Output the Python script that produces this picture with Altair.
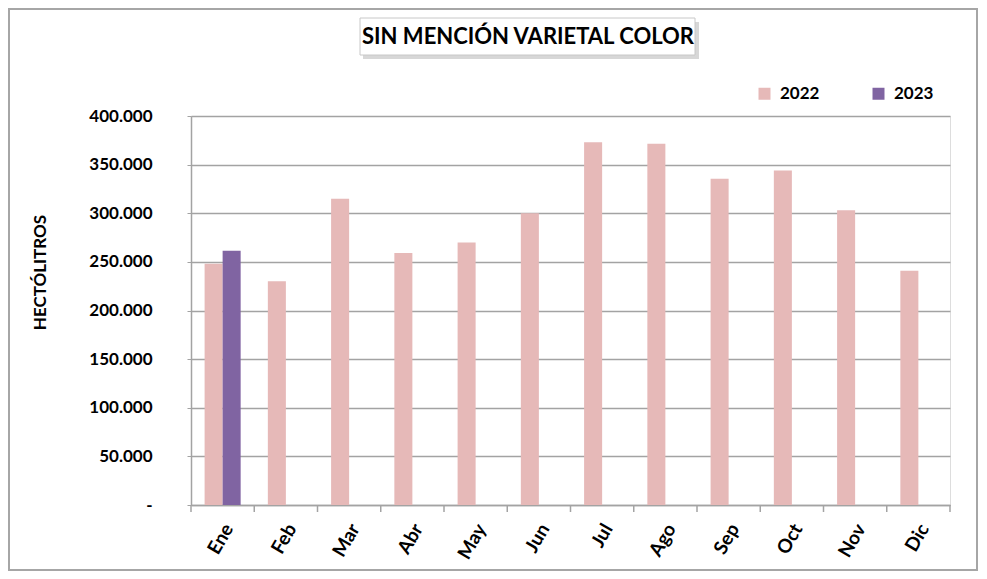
import altair as alt
import pandas as pd

months = ["Ene", "Feb", "Mar", "Abr", "May", "Jun", "Jul", "Ago", "Sep", "Oct", "Nov", "Dic"]
v2022 = [248000, 230000, 315000, 259000, 270000, 300000, 373000, 371500, 335500, 344000, 303000, 241000]
v2023 = [261500]
years = ["2022", "2023"]
colors = ["#E6B9B8", "#8064A2"]
y_ticks = [0, 50000, 100000, 150000, 200000, 250000, 300000, 350000, 400000]
title_text = ["SIN MENCIÓN VARIETAL COLOR"]
y_title = "HECTÓLITROS"

rows = [{"mes": m, "anio": "2022", "hl": v} for m, v in zip(months, v2022)]
rows += [{"mes": m, "anio": "2023", "hl": v} for m, v in zip(months, v2023)]
df = pd.DataFrame(rows)

W, H = 759, 389
FONT = "Lato"
GRID = "#a3a3a3"
PAD_OUT = 0.215

xscale = alt.Scale(domain=months, paddingInner=0.43, paddingOuter=PAD_OUT)
xaxis = alt.Axis(title=None, labelAngle=-60, ticks=False, domain=True,
                 domainColor=GRID, domainWidth=1.5, labelFont=FONT, labelFontSize=19,
                 labelFontWeight="bold", labelColor="black", labelPadding=20, labelOffset=6, grid=False)

bars = alt.Chart(df).mark_bar().encode(
    x=alt.X("mes:N", scale=xscale, sort=months, axis=xaxis),
    xOffset=alt.XOffset("anio:N", scale=alt.Scale(domain=years, paddingInner=0, paddingOuter=0)),
    y=alt.Y("hl:Q", scale=alt.Scale(domain=[0, 400000], nice=False),
            axis=alt.Axis(title=y_title, values=y_ticks,
                          labelExpr="datum.value == 0 ? '-\u00a0\u00a0' : replace(format(datum.value, ','), ',', '.')",
                          grid=True, gridColor=GRID, gridWidth=1.5, tickColor=GRID, tickSize=4,
                          domainColor=GRID, domainWidth=1.5, labelFont=FONT, labelFontSize=17,
                          labelFontWeight="bold", labelColor="black", labelPadding=35,
                          titleFont=FONT, titleFontSize=17, titleFontWeight="bold", titleColor="black",
                          titleX=-151, titleY=156, titleAngle=-90, titleAlign="center", titleBaseline="middle")),
    color=alt.Color("anio:N", scale=alt.Scale(domain=years, range=colors),
                    legend=alt.Legend(title=None, orient="none", legendX=565, legendY=-31,
                                      direction="horizontal", columns=2, symbolType="square",
                                      symbolSize=144, symbolStrokeWidth=0, symbolOpacity=1,
                                      labelFont=FONT, labelFontSize=17, labelFontWeight="bold",
                                      labelColor="black", columnPadding=50, labelOffset=7, padding=0)),
)

tick_df = pd.DataFrame({"mes": months})
xticks = alt.Chart(tick_df).mark_rule(color=GRID, strokeWidth=1.5, xOffset=-PAD_OUT * W / 12).encode(
    x=alt.X("mes:N", scale=xscale, sort=months, bandPosition=0, axis=xaxis),
    y=alt.value(H), y2=alt.value(H + 7),
)
end_tick = alt.Chart(pd.DataFrame({"k": [1]})).mark_rule(color=GRID, strokeWidth=1.5).encode(
    x=alt.value(W), y=alt.value(H), y2=alt.value(H + 7),
)

frame = alt.Chart(pd.DataFrame({"k": [1]})).mark_rect(fill=None, stroke="#a6a6a6", strokeWidth=2).encode(
    x=alt.value(-182), x2=alt.value(786), y=alt.value(-107), y2=alt.value(454),
)

tdf = pd.DataFrame({"t": title_text})
shadow = alt.Chart(tdf).mark_rect(fill="#bdbdbd", opacity=0.6).encode(
    x=alt.value(172), x2=alt.value(508), y=alt.value(-94), y2=alt.value(-57),
)
tbox = alt.Chart(tdf).mark_rect(fill="white", stroke="#c8c8c8", strokeWidth=1).encode(
    x=alt.value(169), x2=alt.value(504), y=alt.value(-98), y2=alt.value(-61),
)
ttext = alt.Chart(tdf).mark_text(font=FONT, fontSize=22, fontWeight="bold", color="black",
                                 align="center", baseline="middle").encode(
    text="t:N", x=alt.value(337), y=alt.value(-79),
)

chart = alt.layer(frame, shadow, tbox, ttext, bars, xticks, end_tick).properties(
    width=W, height=H, autosize="none",
    padding={"left": 183, "top": 108, "right": 29, "bottom": 66},
).configure_view(stroke=None).configure(background="white")

chart.save("out.html", embed_options={"renderer": "svg", "actions": False})
